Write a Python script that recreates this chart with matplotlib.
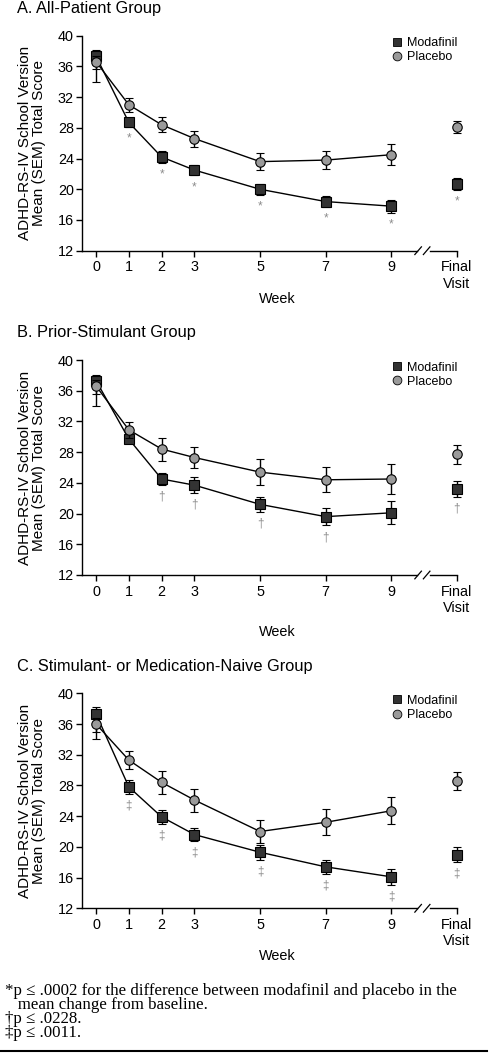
import matplotlib
matplotlib.use('Agg')
import matplotlib.pyplot as plt
from matplotlib.lines import Line2D

# ---------------- data ----------------
x_pos = [0, 1, 2, 3, 5, 7, 9, 11]
x_labels = ['0', '1', '2', '3', '5', '7', '9', 'Final\nVisit']

# Panel A: All-Patient Group
A_modafinil = [37.3, 28.7, 24.2, 22.5, 20.0, 18.4, 17.8, 20.7]
A_modafinil_err_low = [1.6, 0.55, 0.75, 0.7, 0.75, 0.7, 0.85, 0.8]
A_modafinil_err_high = [0.8, 0.55, 0.75, 0.7, 0.75, 0.7, 0.85, 0.8]
A_placebo = [36.6, 31.0, 28.4, 26.6, 23.6, 23.8, 24.5, 28.1]
A_placebo_err_low = [2.6, 0.9, 1.0, 1.05, 1.1, 1.15, 1.35, 0.8]
A_placebo_err_high = [0.8, 0.9, 1.0, 1.05, 1.1, 1.15, 1.35, 0.8]
A_signif = [False, True, True, True, True, True, True, True]

# Panel B: Prior-Stimulant Group
B_modafinil = [37.3, 29.7, 24.5, 23.7, 21.2, 19.6, 20.1, 23.2]
B_modafinil_err_low = [1.7, 0.55, 0.75, 1.0, 1.0, 1.15, 1.5, 1.0]
B_modafinil_err_high = [0.8, 0.55, 0.75, 1.0, 1.0, 1.15, 1.5, 1.0]
B_placebo = [36.6, 30.9, 28.4, 27.3, 25.4, 24.4, 24.5, 27.7]
B_placebo_err_low = [2.6, 1.0, 1.5, 1.4, 1.7, 1.65, 2.0, 1.25]
B_placebo_err_high = [0.8, 1.0, 1.5, 1.4, 1.7, 1.65, 2.0, 1.25]
B_signif = [False, False, True, True, True, True, False, True]

# Panel C: Stimulant- or Medication-Naive Group
C_modafinil = [37.3, 27.8, 23.9, 21.6, 19.3, 17.4, 16.1, 19.0]
C_modafinil_err_low = [2.4, 0.88, 0.9, 0.8, 0.95, 0.95, 1.05, 0.95]
C_modafinil_err_high = [0.9, 0.88, 0.9, 0.8, 0.95, 0.95, 1.05, 0.95]
C_placebo = [36.0, 31.3, 28.4, 26.1, 22.0, 23.2, 24.7, 28.55]
C_placebo_err_low = [1.9, 1.15, 1.45, 1.5, 1.5, 1.7, 1.75, 1.15]
C_placebo_err_high = [0.8, 1.15, 1.45, 1.5, 1.5, 1.7, 1.75, 1.15]
C_signif = [False, True, True, True, True, True, True, True]

panels = [
    dict(title='A. All-Patient Group', mod=A_modafinil, mlo=A_modafinil_err_low,
         mhi=A_modafinil_err_high, pla=A_placebo, plo=A_placebo_err_low,
         phi=A_placebo_err_high, sig=A_signif, sym='*'),
    dict(title='B. Prior-Stimulant Group', mod=B_modafinil, mlo=B_modafinil_err_low,
         mhi=B_modafinil_err_high, pla=B_placebo, plo=B_placebo_err_low,
         phi=B_placebo_err_high, sig=B_signif, sym='\u2020'),
    dict(title='C. Stimulant- or Medication-Naive Group', mod=C_modafinil,
         mlo=C_modafinil_err_low, mhi=C_modafinil_err_high, pla=C_placebo,
         plo=C_placebo_err_low, phi=C_placebo_err_high, sig=C_signif, sym='\u2021'),
]

# ---------------- layout ----------------
W, H = 491, 1061
plt.rcParams['font.family'] = ['Liberation Sans', 'DejaVu Sans']
fig = plt.figure(figsize=(W / 100, H / 100), dpi=100)

ax_left, ax_right = 82.3, 476.5
tops = [35.7, 360.0, 693.3]
ax_h = 215.0
title_y = [9.0, 333.0, 666.0]
week_off = [48.3, 56.7, 47.7]

MOD_FC, PLA_FC = '#333333', '#9a9a9a'
SYM_C = '#8c8c8c'

for i, p in enumerate(panels):
    top = tops[i]
    ax = fig.add_axes([ax_left / W, 1 - (top + ax_h) / H, (ax_right - ax_left) / W, ax_h / H])
    ax.set_xlim(-0.42, 11.6)
    ax.set_ylim(12, 40)

    n_line = 7
    # modafinil
    ax.plot(x_pos[:n_line], p['mod'][:n_line], color='black', lw=1.0, zorder=2)
    ax.errorbar(x_pos, p['mod'], yerr=[p['mlo'], p['mhi']], fmt='s', ms=6.6,
                mfc=MOD_FC, mec='black', mew=0.8, ecolor='black', elinewidth=1.0,
                capsize=2.6, capthick=1.0, zorder=3)
    # placebo
    ax.plot(x_pos[:n_line], p['pla'][:n_line], color='black', lw=1.0, zorder=4)
    ax.errorbar(x_pos, p['pla'], yerr=[p['plo'], p['phi']], fmt='o', ms=6.8,
                mfc=PLA_FC, mec='black', mew=0.8, ecolor='black', elinewidth=1.0,
                capsize=2.6, capthick=1.0, zorder=5)

    # significance symbols
    for x, m, lo, s in zip(x_pos, p['mod'], p['mlo'], p['sig']):
        if s:
            ax.text(x, m - lo - 0.75, p['sym'], ha='center', va='top',
                    fontsize=8.5, color=SYM_C, zorder=6)

    # axes styling
    for sp in ['top', 'right', 'bottom']:
        ax.spines[sp].set_visible(False)
    ax.spines['left'].set_linewidth(1.0)
    ax.set_yticks(range(12, 41, 4))
    ax.set_xticks(x_pos)
    ax.set_xticklabels(x_labels)
    ax.tick_params(axis='both', direction='out', length=4, width=1.0,
                   labelsize=10.4, colors='black')
    ax.tick_params(axis='x', pad=3)
    ax.tick_params(axis='y', pad=2)

    # broken x axis line
    ax.plot([-0.42, 9.8], [12, 12], color='black', lw=1.0, clip_on=False, zorder=1)
    ax.plot([10.18, 11], [12, 12], color='black', lw=1.0, clip_on=False, zorder=1)
    ax.plot([9.72, 9.92], [11.5, 12.5], color='black', lw=0.9, clip_on=False)
    ax.plot([9.98, 10.18], [11.5, 12.5], color='black', lw=0.9, clip_on=False)

    ax.set_xlabel('Week', fontsize=10.4)
    ax.xaxis.label.set_va('center')
    ax.xaxis.set_label_coords((277 - ax_left) / (ax_right - ax_left), -week_off[i] / ax_h)
    ax.set_ylabel('ADHD-RS-IV School Version\nMean (SEM) Total Score', fontsize=11.0,
                  linespacing=0.95)
    ax.yaxis.label.set_va('center')
    ax.yaxis.set_label_coords((32.0 - ax_left) / (ax_right - ax_left), 0.5)

    handles = [Line2D([], [], ls='none', marker='s', ms=6.3, mfc=MOD_FC, mec='black', mew=0.6),
               Line2D([], [], ls='none', marker='o', ms=6.3, mfc=PLA_FC, mec='black', mew=0.6)]
    ax.legend(handles, ['Modafinil', 'Placebo'], loc='upper left',
              bbox_to_anchor=((391.8 - ax_left) / (ax_right - ax_left), 0.993),
              frameon=False, fontsize=9.0, borderpad=0, borderaxespad=0,
              handlelength=0.8, handletextpad=0.4, labelspacing=0.18)

    fig.text(16.7 / W, 1 - title_y[i] / H, p['title'], fontsize=11.8,
             ha='left', va='center')

# footnotes (one text block)
serif = ['Liberation Serif', 'DejaVu Serif']
foot_text = ('*p \u2264 .0002 for the difference between modafinil and placebo in the\n'
             '   mean change from baseline.\n'
             '\u2020p \u2264 .0228.\n'
             '\u2021p \u2264 .0011.')
fig.text(5 / W, 1 - 983 / H, foot_text, fontsize=12.2, family=serif,
         ha='left', va='top', linespacing=0.83)
fig.add_artist(Line2D([0, 487 / W], [1 - 1051 / H, 1 - 1051 / H], color='black', lw=1.5))

fig.savefig('out.png', dpi=100)
